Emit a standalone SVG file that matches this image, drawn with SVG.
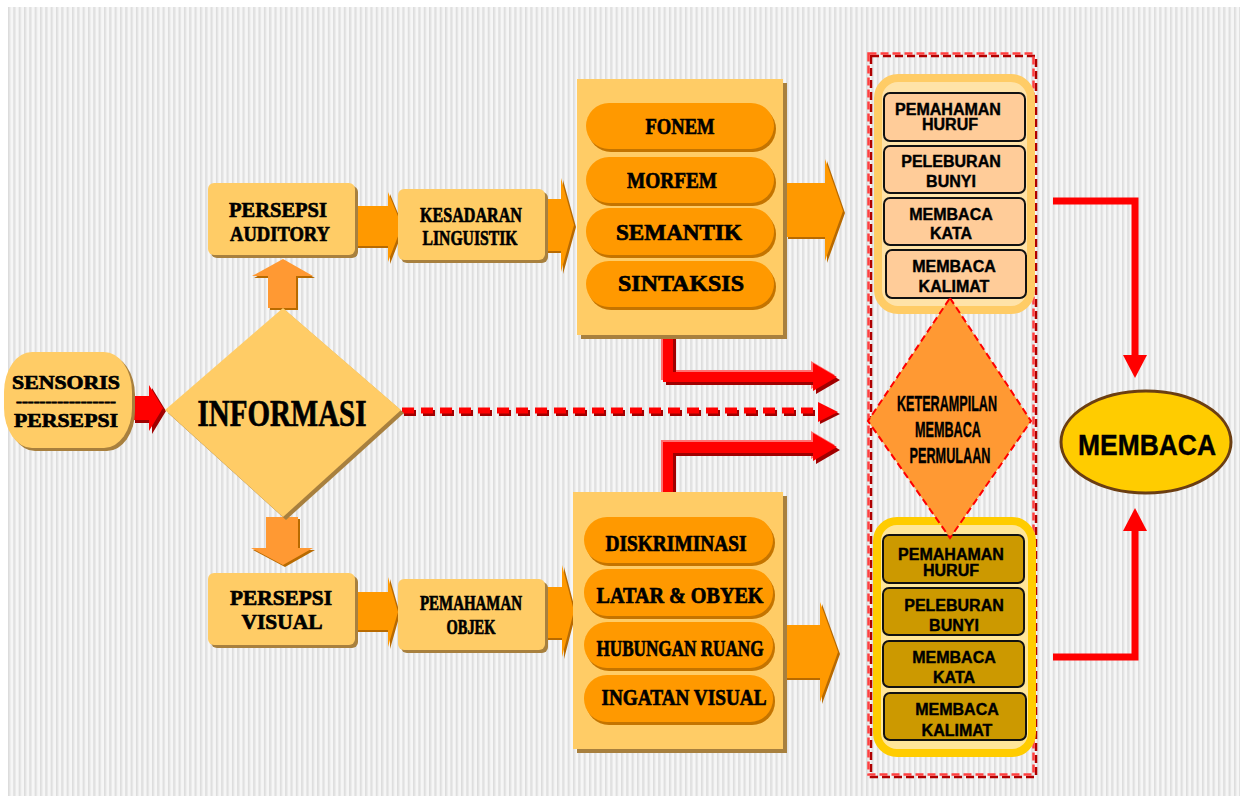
<svg xmlns="http://www.w3.org/2000/svg" width="1240" height="796" viewBox="0 0 1240 796">
<defs>
<pattern id="stripes" x="8" y="0" width="5.33" height="10" patternUnits="userSpaceOnUse">
<rect width="5.33" height="10" fill="#f6f6f6"/>
<rect x="0" width="1.6" height="10" fill="#dcdcdc"/>
<rect x="1.6" width="1" height="10" fill="#e9e9e9"/>
</pattern>
<style>
.serif{font-family:"Liberation Serif","Times New Roman",serif;font-weight:bold;fill:#000;stroke:#000;stroke-width:0.7;text-anchor:middle}
.sans{font-family:"Liberation Sans",Arial,sans-serif;font-weight:bold;fill:#000;stroke:#000;stroke-width:0.4;text-anchor:middle}
.box{fill:#FFCC66}
.shadow{fill:#A8803E}
.pill{fill:#FF9900}
.pillsh{fill:#C47400}
.oarrow{fill:#FF9900}
.oarrowsh{fill:#B86A00}
.larrow{fill:#FF9933}
.red{fill:#FF0000}
.redsh{fill:#A00000}
.redhl{fill:#FF7070}
.ibox1{fill:#FFCC99;stroke:#111;stroke-width:2}
.ibox2{fill:#CC9900;stroke:#111;stroke-width:2}
</style>
</defs>
<rect x="8" y="7" width="1232" height="789" fill="url(#stripes)"/>

<g id="connectors">
<polygon class="oarrowsh" points="358,208 390,208 390,194 404,228 390,264 390,248 358,248"/>
<polygon class="oarrow" points="356,206 388,206 388,192 402,226 388,262 388,246 356,246"/>
<polygon class="oarrowsh" points="542,201 563,201 563,180 576,227 563,274 563,253 542,253"/>
<polygon class="oarrow" points="540,199 561,199 561,178 574,225 561,272 561,251 540,251"/>
<polygon class="oarrowsh" points="788,185 827,185 827,161 845,213 827,263 827,239 788,239"/>
<polygon class="oarrow" points="786,183 825,183 825,159 843,211 825,261 825,237 786,237"/>
<polygon class="oarrowsh" points="358,594 390,594 390,579 400,614 390,649 390,632 358,632"/>
<polygon class="oarrow" points="356,592 388,592 388,577 398,612 388,647 388,630 356,630"/>
<polygon class="oarrowsh" points="542,589 564,589 564,567 576,613 564,659 564,640 542,640"/>
<polygon class="oarrow" points="540,587 562,587 562,565 574,611 562,657 562,638 540,638"/>
<polygon class="oarrowsh" points="786,627 822,627 822,604 840,654 822,704 822,680 786,680"/>
<polygon class="oarrow" points="784,625 820,625 820,602 838,652 820,702 820,678 784,678"/>
<polygon class="oarrowsh" points="270,310 298,310 298,278 315,278 285,261 254,278 270,278"/>
<polygon class="larrow" points="268,308 296,308 296,276 313,276 283,259 252,276 268,276"/>
<polygon class="oarrowsh" points="268,519 300,519 300,550 315,550 285,567 253,550 268,550"/>
<polygon class="larrow" points="266,517 298,517 298,548 313,548 283,565 251,548 266,548"/>

<polygon class="redsh" points="135,399 152,399 152,388 166,411 152,434 152,423 135,423"/>
<polygon class="red" points="132,396 149,396 149,385 163,408 149,431 149,420 132,420"/>

<polygon class="redhl" points="661,328 671,328 671,370 811,370 811,361 835,375 811,389 811,380 661,380"/>
<polygon class="redsh" points="666,333 676,333 676,375 816,375 816,366 840,380 816,394 816,385 666,385"/>
<polygon class="red" points="663,330 673,330 673,372 813,372 813,363 837,377 813,391 813,382 663,382"/>

<polygon class="redhl" points="661,493 661,440 811,440 811,431 835,445 811,459 811,451 671,451 671,493"/>
<polygon class="redsh" points="666,498 666,445 816,445 816,436 840,450 816,464 816,456 676,456 676,498"/>
<polygon class="red" points="663,495 663,442 813,442 813,433 837,447 813,461 813,453 673,453 673,495"/>

<line x1="404" y1="413" x2="820" y2="413" stroke="#A00000" stroke-width="6" stroke-dasharray="12 7"/>
<line x1="402" y1="410.5" x2="818" y2="410.5" stroke="#FF0000" stroke-width="6" stroke-dasharray="12 7"/>
<polygon class="redsh" points="820,404 840,414 820,424"/>
<polygon class="red" points="818,402 838,412 818,422"/>

<polyline points="1053,201 1135,201 1135,357" fill="none" stroke="#FF0000" stroke-width="7"/>
<polygon class="red" points="1123,355 1147,355 1135,378"/>
<polyline points="1053,657 1135,657 1135,529" fill="none" stroke="#FF0000" stroke-width="7"/>
<polygon class="red" points="1123,531 1147,531 1135,508"/>
</g>

<g id="sensoris">
<rect x="7" y="355" width="128" height="96" rx="28" ry="40" class="shadow"/>
<rect x="4" y="352" width="128" height="96" rx="28" ry="40" class="box"/>
<text class="serif" x="66" y="389" font-size="19" textLength="108" lengthAdjust="spacingAndGlyphs">SENSORIS</text>
<text class="serif" x="66" y="406" font-size="14" textLength="100" lengthAdjust="spacingAndGlyphs">-----------------</text>
<text class="serif" x="66" y="427" font-size="19" textLength="104" lengthAdjust="spacingAndGlyphs">PERSEPSI</text>
</g>

<g id="informasi">
<polygon points="286,311 404,413 286,520 168,413" class="shadow"/>
<polygon points="283,308 401,410 283,517 165,410" class="box"/>
<text class="serif" x="282" y="426" font-size="38" textLength="169" lengthAdjust="spacingAndGlyphs">INFORMASI</text>
</g>

<g id="persepsi-auditory">
<rect x="211" y="186" width="147" height="72" rx="6" class="shadow"/>
<rect x="208" y="183" width="147" height="72" rx="6" class="box"/>
<text class="serif" x="278" y="217" font-size="22" textLength="98" lengthAdjust="spacingAndGlyphs">PERSEPSI</text>
<text class="serif" x="280" y="241" font-size="22" textLength="100" lengthAdjust="spacingAndGlyphs">AUDITORY</text>
</g>

<g id="kesadaran-linguistik">
<rect x="401" y="192" width="147" height="71" rx="6" class="shadow"/>
<rect x="398" y="189" width="147" height="71" rx="6" class="box"/>
<text class="serif" x="471" y="222" font-size="22" textLength="102" lengthAdjust="spacingAndGlyphs">KESADARAN</text>
<text class="serif" x="470" y="245" font-size="22" textLength="95" lengthAdjust="spacingAndGlyphs">LINGUISTIK</text>
</g>

<g id="linguistik-box">
<rect x="581" y="83" width="206" height="256" class="shadow"/>
<rect x="577" y="79" width="206" height="256" class="box"/>
<rect x="588" y="106" width="188" height="46" rx="23" class="pillsh"/>
<rect x="586" y="103" width="188" height="46" rx="23" class="pill"/>
<text class="serif" x="680" y="134" font-size="23" textLength="69" lengthAdjust="spacingAndGlyphs">FONEM</text>
<rect x="588" y="160" width="188" height="46" rx="23" class="pillsh"/>
<rect x="586" y="157" width="188" height="46" rx="23" class="pill"/>
<text class="serif" x="672" y="188" font-size="23" textLength="90" lengthAdjust="spacingAndGlyphs">MORFEM</text>
<rect x="588" y="211" width="188" height="47" rx="23" class="pillsh"/>
<rect x="586" y="208" width="188" height="47" rx="23" class="pill"/>
<text class="serif" x="679" y="240" font-size="23" textLength="126" lengthAdjust="spacingAndGlyphs">SEMANTIK</text>
<rect x="588" y="264" width="188" height="46" rx="23" class="pillsh"/>
<rect x="586" y="261" width="188" height="46" rx="23" class="pill"/>
<text class="serif" x="681" y="291" font-size="23" textLength="126" lengthAdjust="spacingAndGlyphs">SINTAKSIS</text>
</g>

<g id="persepsi-visual">
<rect x="211" y="576" width="147" height="72" rx="6" class="shadow"/>
<rect x="208" y="573" width="147" height="72" rx="6" class="box"/>
<text class="serif" x="281" y="605" font-size="22" textLength="102" lengthAdjust="spacingAndGlyphs">PERSEPSI</text>
<text class="serif" x="282" y="629" font-size="22" textLength="81" lengthAdjust="spacingAndGlyphs">VISUAL</text>
</g>

<g id="pemahaman-objek">
<rect x="401" y="582" width="147" height="71" rx="6" class="shadow"/>
<rect x="398" y="579" width="147" height="71" rx="6" class="box"/>
<text class="serif" x="471" y="610" font-size="20" textLength="102" lengthAdjust="spacingAndGlyphs">PEMAHAMAN</text>
<text class="serif" x="471" y="634" font-size="20" textLength="49" lengthAdjust="spacingAndGlyphs">OBJEK</text>
</g>

<g id="visual-box">
<rect x="577" y="496" width="210" height="257" class="shadow"/>
<rect x="573" y="492" width="210" height="257" class="box"/>
<rect x="586" y="520" width="189" height="46" rx="23" class="pillsh"/>
<rect x="584" y="517" width="189" height="46" rx="23" class="pill"/>
<text class="serif" x="676" y="551" font-size="23" textLength="141" lengthAdjust="spacingAndGlyphs">DISKRIMINASI</text>
<rect x="586" y="572" width="189" height="47" rx="23" class="pillsh"/>
<rect x="584" y="569" width="189" height="47" rx="23" class="pill"/>
<text class="serif" x="680" y="603" font-size="23" textLength="167" lengthAdjust="spacingAndGlyphs">LATAR &amp; OBYEK</text>
<rect x="586" y="625" width="189" height="46" rx="23" class="pillsh"/>
<rect x="584" y="622" width="189" height="46" rx="23" class="pill"/>
<text class="serif" x="680" y="656" font-size="23" textLength="167" lengthAdjust="spacingAndGlyphs">HUBUNGAN RUANG</text>
<rect x="586" y="678" width="189" height="47" rx="23" class="pillsh"/>
<rect x="584" y="675" width="189" height="47" rx="23" class="pill"/>
<text class="serif" x="684" y="705" font-size="23" textLength="165" lengthAdjust="spacingAndGlyphs">INGATAN VISUAL</text>
</g>

<g id="keterampilan-frame">
<rect x="871" y="56" width="165" height="721" fill="none" stroke="#B00000" stroke-width="2.5" stroke-dasharray="8 4"/>
<rect x="868.5" y="53.5" width="165" height="721" fill="none" stroke="#FF4040" stroke-width="2.5" stroke-dasharray="8 4"/>
</g>

<g id="auditory-skills">
<rect x="878" y="78" width="153" height="232" rx="20" fill="#FFE3A8" stroke="#FFCC66" stroke-width="8"/>
<rect x="884" y="93" width="141" height="48" rx="6" class="ibox1"/>
<text class="sans" x="948" y="115" font-size="16">PEMAHAMAN</text>
<text class="sans" x="950" y="130" font-size="16">HURUF</text>
<rect x="884" y="146" width="141" height="47" rx="6" class="ibox1"/>
<text class="sans" x="951" y="167" font-size="16">PELEBURAN</text>
<text class="sans" x="951" y="187" font-size="16">BUNYI</text>
<rect x="884" y="198" width="141" height="47" rx="6" class="ibox1"/>
<text class="sans" x="951" y="220" font-size="16">MEMBACA</text>
<text class="sans" x="951" y="239" font-size="16">KATA</text>
<rect x="886" y="250" width="140" height="48" rx="6" class="ibox1"/>
<text class="sans" x="954" y="272" font-size="16">MEMBACA</text>
<text class="sans" x="954" y="292" font-size="16">KALIMAT</text>
</g>

<g id="visual-skills">
<rect x="877" y="521" width="155" height="232" rx="20" fill="#FFE699" stroke="#FFCC00" stroke-width="8"/>
<rect x="883" y="535" width="141" height="48" rx="6" class="ibox2"/>
<text class="sans" x="951" y="560" font-size="16">PEMAHAMAN</text>
<text class="sans" x="951" y="576" font-size="16">HURUF</text>
<rect x="883" y="588" width="141" height="47" rx="6" class="ibox2"/>
<text class="sans" x="954" y="611" font-size="16">PELEBURAN</text>
<text class="sans" x="954" y="631" font-size="16">BUNYI</text>
<rect x="883" y="641" width="141" height="46" rx="6" class="ibox2"/>
<text class="sans" x="954" y="663" font-size="16">MEMBACA</text>
<text class="sans" x="954" y="683" font-size="16">KATA</text>
<rect x="884" y="693" width="142" height="47" rx="6" class="ibox2"/>
<text class="sans" x="957" y="715" font-size="16">MEMBACA</text>
<text class="sans" x="957" y="736" font-size="16">KALIMAT</text>
</g>

<g id="keterampilan">
<polygon points="950,298 1031,421 950,538 868,421" fill="#FF9933" stroke="#FF0000" stroke-width="2" stroke-dasharray="7 4"/>
<text class="sans" x="947" y="411" font-size="22" textLength="100" lengthAdjust="spacingAndGlyphs">KETERAMPILAN</text>
<text class="sans" x="948" y="437" font-size="22" textLength="66" lengthAdjust="spacingAndGlyphs">MEMBACA</text>
<text class="sans" x="950" y="463" font-size="22" textLength="81" lengthAdjust="spacingAndGlyphs">PERMULAAN</text>
</g>

<g id="membaca">
<ellipse cx="1146" cy="442" rx="85" ry="51" fill="#FFCC00" stroke="#6B3E12" stroke-width="3"/>
<text class="sans" x="1147" y="455" font-size="29" textLength="138" lengthAdjust="spacingAndGlyphs">MEMBACA</text>
</g>
</svg>
